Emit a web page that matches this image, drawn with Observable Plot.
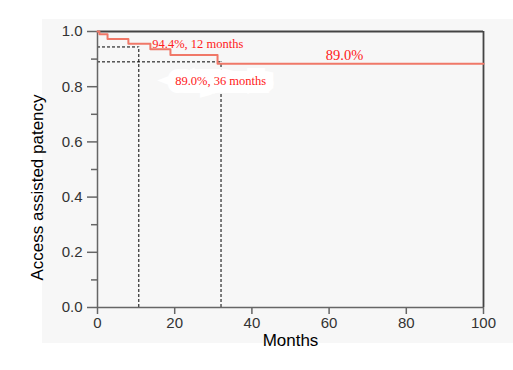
<!DOCTYPE html>
<html>
<head>
<meta charset="utf-8">
<script src="https://cdn.jsdelivr.net/npm/d3@7"></script>
<script src="https://cdn.jsdelivr.net/npm/@observablehq/plot@0.6"></script>
<style>
  body { margin: 0; background: #fff; }
  #wrap { position: relative; width: 513px; height: 370px; }
  #bg { position: absolute; left: 42px; top: 19px; width: 471px; height: 324px; background: #f7f7f7; }
  #chart { position: absolute; left: 0; top: 0; }
</style>
</head>
<body>
<div id="wrap"><div id="bg"></div><div id="chart"></div></div>
<script>
// Kaplan-Meier step curve (months, survival)
const months   = [0, 0.5, 2.6, 8.0, 13.7, 18.9, 31.1, 100];
const patency  = [1.0, 0.990, 0.973, 0.956, 0.936, 0.915, 0.883, 0.883];

// Reference lines (dashed)
const refMonths  = [10.7, 32];
const refPatency = [0.944, 0.89];

// Annotations
const noteText = ["94.4%, 12 months", "89.0%, 36 months"];
const noteX    = [14.2, 31.9];
const noteY    = [0.955, 0.822];
const endText  = ["89.0%"];
const endX     = [64];
const endY     = [0.913];

const yMajor = [0, 0.2, 0.4, 0.6, 0.8, 1.0];
const yMinor = [0.1, 0.3, 0.5, 0.7, 0.9];
const xMajor = [0, 20, 40, 60, 80, 100];

const curve = months.map((m, i) => ({m, p: patency[i]}));
const refs = refMonths.map((m, i) => ({m, p: refPatency[i]}));
const notes = noteText.map((t, i) => ({t, x: noteX[i], y: noteY[i]}));
const ends = endText.map((t, i) => ({t, x: endX[i], y: endY[i]}));

const axisColor = "#666";
const chart = Plot.plot({
  width: 513,
  height: 370,
  marginLeft: 97,
  marginRight: 30,
  marginTop: 31,
  marginBottom: 63,
  style: {background: "transparent", fontFamily: "'Liberation Sans', Arial, sans-serif", fontSize: "14px"},
  x: {domain: [0, 100]},
  y: {domain: [0, 1]},
  marks: [
    // dashed reference lines
    Plot.ruleY(refs, {y: "p", x1: 0, x2: "m", stroke: "#000", strokeWidth: 1, strokeDasharray: "3,2"}),
    Plot.ruleX(refs, {x: "m", y1: 0, y2: "p", stroke: "#000", strokeWidth: 1, strokeDasharray: "3,2"}),
    // frame top & right
    Plot.ruleY([1], {stroke: "#444", strokeWidth: 1.8}),
    Plot.ruleX([100], {stroke: "#444", strokeWidth: 1.8}),
    // axes
    Plot.axisY(yMajor, {tickSize: 10, tickPadding: 5, tickFormat: d3.format(".1f"), fontSize: 15, color: "#333", stroke: axisColor, strokeWidth: 1.5, label: null}),
    Plot.axisY(yMinor, {tickSize: 6, text: null, stroke: axisColor, strokeWidth: 1.5, label: null}),
    Plot.axisX(xMajor, {tickSize: 7, tickPadding: 3, tickFormat: d3.format("d"), fontSize: 15, color: "#333", stroke: axisColor, strokeWidth: 1.5, label: null}),
    Plot.ruleX([0], {stroke: axisColor, strokeWidth: 1.5}),
    Plot.ruleY([0], {stroke: axisColor, strokeWidth: 1.5}),
    // curve
    Plot.line(curve, {x: "m", y: "p", curve: "step-after", stroke: "#f07868", strokeWidth: 2}),
    // annotations
    Plot.text(notes.slice(1), {x: "x", y: "y", text: "t", fill: "#ff2020", fontSize: 12.5, fontFamily: "'Liberation Serif', serif", stroke: "#fff", strokeWidth: 16, strokeLinejoin: "miter"}),
    Plot.text(notes.slice(0, 1), {x: "x", y: "y", text: "t", textAnchor: "start", fill: "#ff2020", fontSize: 12.5, fontFamily: "'Liberation Serif', serif"}),
    Plot.text(ends, {x: "x", y: "y", text: "t", fill: "#ff2020", fontSize: 14.5, fontFamily: "'Liberation Serif', serif"}),
    // axis titles
    Plot.text(["Months"], {frameAnchor: "bottom", dy: 38, fontSize: 17, fill: "#000"}),
    Plot.text(["Access assisted patency"], {frameAnchor: "left", textAnchor: "middle", rotate: -90, dx: -60, dy: 18, fontSize: 17, fill: "#000"})
  ]
});
document.getElementById("chart").append(chart);
</script>
</body>
</html>
